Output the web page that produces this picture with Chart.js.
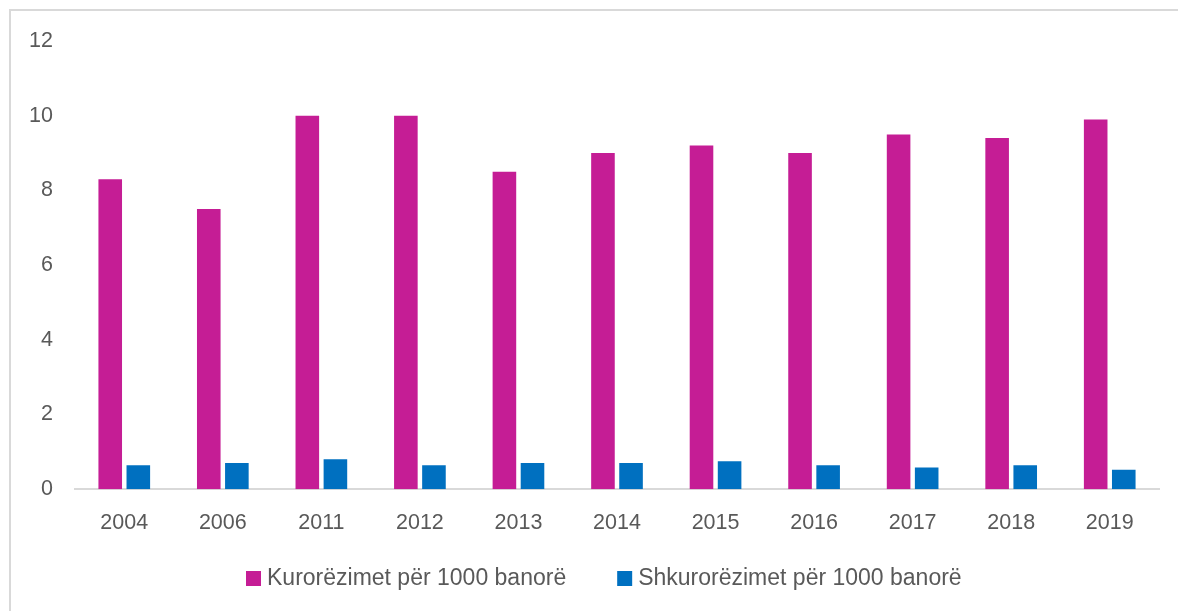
<!DOCTYPE html>
<html>
<head>
<meta charset="utf-8">
<script src="https://cdn.jsdelivr.net/npm/chart.js@4.4.1/dist/chart.umd.min.js"></script>
<style>
  html, body { margin: 0; padding: 0; background: #fff; overflow: hidden; }
  #frame {
    position: absolute; left: 9px; top: 9px; width: 1169px; height: 602px;
    border-left: 2px solid #d9d9d9; border-top: 2px solid #d9d9d9;
  }
  #wrap { position: absolute; left: 0; top: 0; width: 1178px; height: 611px; }
</style>
</head>
<body>
<div id="frame"></div>
<div id="wrap"><canvas id="myChart"></canvas></div>
<script>
// Years along the x-axis
var years = ["2004", "2006", "2011", "2012", "2013", "2014", "2015", "2016", "2017", "2018", "2019"];

// Rates per 1000 inhabitants
var marriages = [8.3, 7.5, 10.0, 10.0, 8.5, 9.0, 9.2, 9.0, 9.5, 9.4, 9.9];
var divorces = [0.64, 0.7, 0.8, 0.64, 0.7, 0.7, 0.75, 0.64, 0.58, 0.64, 0.52];

var seriesNames = ["Kurorëzimet për 1000 banorë", "Shkurorëzimet për 1000 banorë"];

var textColor = "#595959";
var fontFamily = '"Liberation Sans", Arial, sans-serif';

// simple legend drawn under the axis, left-leaning like the original
var bottomLegend = {
  id: "bottomLegend",
  afterDraw(chart) {
    var ctx = chart.ctx;
    ctx.save();
    ctx.font = "23px " + fontFamily;
    ctx.textBaseline = "middle";
    ctx.textAlign = "left";
    var x = 246, y = 578.5;
    chart.data.datasets.forEach(function (ds) {
      ctx.fillStyle = ds.backgroundColor;
      ctx.fillRect(x, y - 7.5, 15, 15);
      ctx.fillStyle = textColor;
      ctx.fillText(ds.label, x + 21, y);
      x += 21 + ctx.measureText(ds.label).width + 51;
    });
    ctx.restore();
  }
};

var ctx = document.getElementById("myChart");
var myChart = new Chart(ctx, {
  type: "bar",
  data: {
    labels: years,
    datasets: [
      {
        label: seriesNames[0],
        data: marriages,
        backgroundColor: "#C51D95",
        barPercentage: 0.84,
        categoryPercentage: 0.57
      },
      {
        label: seriesNames[1],
        data: divorces,
        backgroundColor: "#0070C0",
        barPercentage: 0.84,
        categoryPercentage: 0.57
      }
    ]
  },
  options: {
    responsive: true,
    maintainAspectRatio: false,
    animation: false,
    layout: { padding: { left: 0, right: 19, top: 41, bottom: 54 } },
    plugins: {
      legend: { display: false },
      tooltip: { enabled: false }
    },
    scales: {
      x: {
        grid: { display: false, drawTicks: false },
        border: { display: true, color: "#d9d9d9", width: 2 },
        ticks: { color: textColor, font: { family: fontFamily, size: 21.5 }, padding: 21 }
      },
      y: {
        min: 0,
        max: 12,
        grid: { display: false, drawTicks: false },
        border: { display: false },
        ticks: { stepSize: 2, color: textColor, font: { family: fontFamily, size: 21.5 }, padding: 22 },
        afterFit: function (scale) { scale.width = 75; }
      }
    }
  },
  plugins: [bottomLegend]
});
</script>
</body>
</html>
